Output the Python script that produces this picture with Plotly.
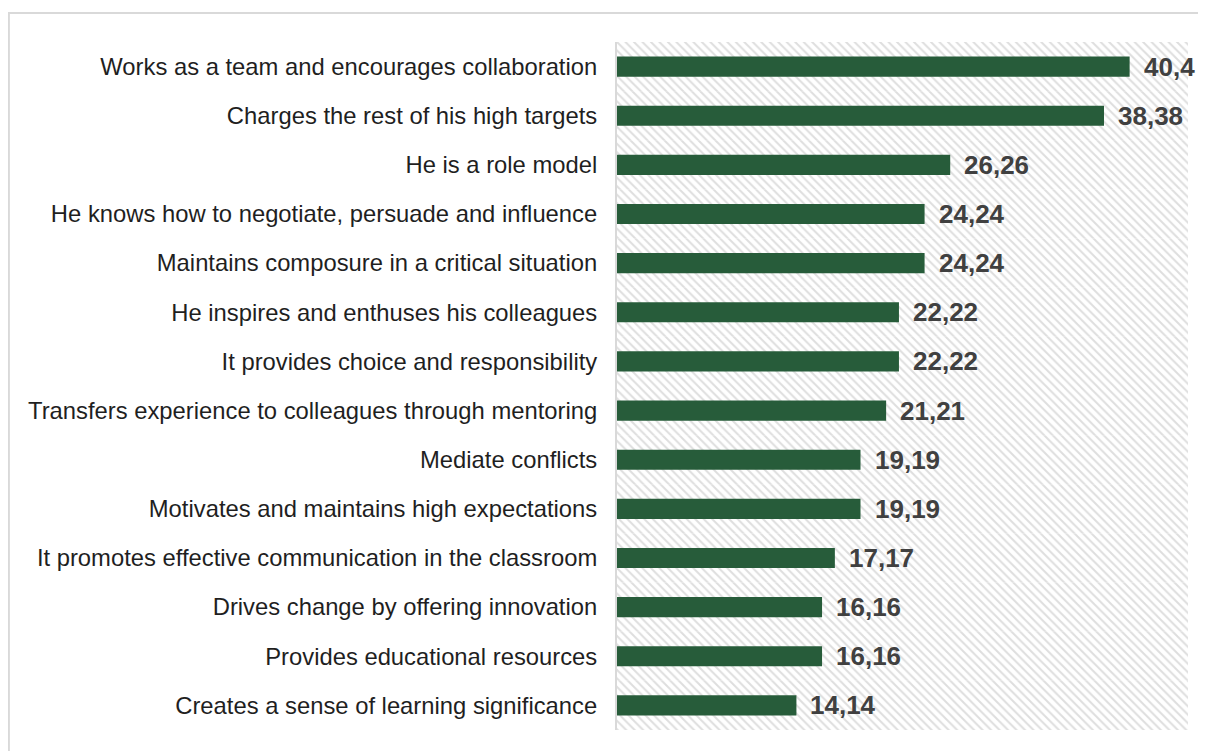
import plotly.graph_objects as go

categories = [
    "Works as a team and encourages collaboration",
    "Charges the rest of his high targets",
    "He is a role model",
    "He knows how to negotiate, persuade and influence",
    "Maintains composure in a critical situation",
    "He inspires and enthuses his colleagues",
    "It provides choice and responsibility",
    "Transfers experience to colleagues through mentoring",
    "Mediate conflicts",
    "Motivates and maintains high expectations",
    "It promotes effective communication in the classroom",
    "Drives change by offering innovation",
    "Provides educational resources",
    "Creates a sense of learning significance",
]
values = [40.4, 38.38, 26.26, 24.24, 24.24, 22.22, 22.22, 21.21, 19.19, 19.19, 17.17, 16.16, 16.16, 14.14]
value_labels = [str(v).replace(".", ",") for v in values]

X_MAX = 45
FONT = "Liberation Sans, Arial, sans-serif"

fig = go.Figure()

# hatched plot-area background
fig.add_trace(go.Bar(
    y=categories, x=[X_MAX] * len(categories), orientation="h", width=1,
    marker=dict(color="white", line=dict(width=0),
                pattern=dict(shape="\\", fgcolor="#bdbdbd", bgcolor="white", size=6, solidity=0.33)),
    hoverinfo="skip", showlegend=False,
))

# data bars
fig.add_trace(go.Bar(
    y=categories, x=values, orientation="h", width=0.41,
    marker=dict(color="#275c3a", line=dict(width=0)),
    showlegend=False,
))

for cat, v, lab in zip(categories, values, value_labels):
    fig.add_annotation(x=v, y=cat, text="<b>%s</b>" % lab, showarrow=False,
                       xanchor="left", yanchor="middle", xshift=12,
                       font=dict(family=FONT, size=26, color="#404040"))

fig.add_shape(type="rect", xref="paper", yref="paper", x0=-1.065, x1=1.2, y0=-0.2, y1=1.042,
              line=dict(color="#d9d9d9", width=2), fillcolor="rgba(0,0,0,0)", layer="below")

fig.update_layout(
    width=1198, height=743,
    margin=dict(l=609, r=18, t=34, b=21),
    barmode="overlay",
    paper_bgcolor="white", plot_bgcolor="white",
    font=dict(family=FONT, size=23.8, color="#1f1f1f"),
    xaxis=dict(range=[0, X_MAX], visible=False, showgrid=False, zeroline=False, fixedrange=True),
    yaxis=dict(autorange="reversed", showline=True, linecolor="#d9d9d9", linewidth=2,
               ticks="", showgrid=False, automargin=False, ticklabelstandoff=13,
               tickfont=dict(family=FONT, size=23.8, color="#1f1f1f")),
)

fig.write_html("out.html")
